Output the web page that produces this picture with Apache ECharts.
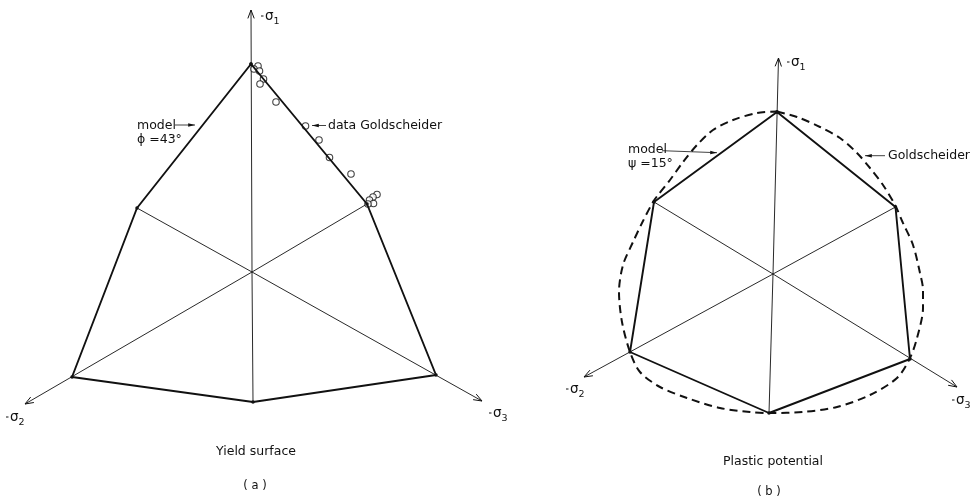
<!DOCTYPE html>
<html>
<head>
<meta charset="utf-8">
<script src="https://cdn.jsdelivr.net/npm/echarts@6.0.0/dist/echarts.min.js"></script>
<style>
  html, body { margin: 0; padding: 0; background: #fff; }
  #chart { width: 970px; height: 501px; }
</style>
</head>
<body>
<div id="chart"></div>
<script>
// Deviatoric (π-plane) coordinates: origin on the hydrostatic axis, +y toward -σ1.
// Hexagon vertex order: -σ1 corner, extension, -σ2 corner, extension, -σ3 corner, extension.

// (a) Yield surface, Mohr-Coulomb with φ = 43°
const yieldVertices = [[-1, 208], [-115, 64], [-180, -105], [1, -130], [184, -103], [115, 68]];
const yieldAxisTips = [[-1, 262], [-227, -132], [230, -129]];
const goldscheiderTests = [
  [6, 206], [2, 203], [7.5, 201], [11.5, 193], [8, 188], [24, 170],
  [53.5, 146], [67, 132], [77.5, 114.5], [99, 98],
  [125, 77.5], [121, 75], [117.5, 72], [121.5, 68.5], [116, 68]
];

// (b) Plastic potential, ψ = 15°, and Goldscheider's potential surface
const potentialVertices = [[4, 162], [-119, 72], [-143, -78], [-4, -139], [137, -85], [122.5, 67]];
const potentialAxisTips = [[5.5, 216], [-189, -103], [184, -113]];
const goldscheiderPotential = [
  [4, 162.5], [24, 157], [47, 147], [67, 136], [84, 121], [97, 106], [110, 89], [122, 69],
  [130, 51], [140, 29], [147, 1], [150, -16], [150, -34], [144, -64], [137, -84],
  [124, -104], [97, -121], [64, -133], [30, -138], [-3, -139],
  [-23, -138], [-53, -134], [-86, -124], [-113, -113], [-133, -98], [-143, -78],
  [-151, -48], [-154, -18], [-150, 9], [-140, 32], [-131, 51], [-120, 72],
  [-115, 79], [-103, 94], [-90, 112], [-76, 129], [-60, 144], [-40, 154], [-16, 161], [4, 162.5]
];

const INK = '#111';
const FONT = '"DejaVu Sans", sans-serif';

// Rays from the origin: principal axes (with arrowheads) and the extension directions.
function buildRays(vertices, tips) {
  const rays = tips.map(t => [0, 0, t[0], t[1], 1]);
  [1, 3, 5].forEach(i => rays.push([0, 0, vertices[i][0], vertices[i][1], 0]));
  return rays;
}
function closed(points) {
  return points.concat([points[0]]);
}

function renderRay(params, api) {
  const p0 = api.coord([api.value(0), api.value(1)]);
  const p1 = api.coord([api.value(2), api.value(3)]);
  const children = [{
    type: 'line',
    shape: { x1: p0[0], y1: p0[1], x2: p1[0], y2: p1[1] },
    style: { stroke: INK, lineWidth: 0.9 }
  }];
  if (api.value(4)) {
    const a = Math.atan2(p1[1] - p0[1], p1[0] - p0[0]);
    const L = 9, t = 0.36;
    children.push({
      type: 'polyline',
      shape: { points: [
        [p1[0] - L * Math.cos(a - t), p1[1] - L * Math.sin(a - t)],
        [p1[0], p1[1]],
        [p1[0] - L * Math.cos(a + t), p1[1] - L * Math.sin(a + t)]
      ] },
      style: { stroke: INK, lineWidth: 1, fill: null }
    });
  }
  return { type: 'group', children };
}

function text(str, x, y, opts) {
  opts = opts || {};
  const align = opts.align || 'left';
  return {
    type: 'text', x, y, silent: true,
    style: {
      text: str, fill: INK,
      font: (opts.size || 12.5) + 'px ' + FONT,
      textAlign: align, align: align,
      textVerticalAlign: 'middle', verticalAlign: 'middle'
    }
  };
}
// "-σ" with a subscript index; the dash is a short stroke at mid height of σ.
function axisLabel(x, y, sub) {
  return [
    { type: 'line', silent: true, shape: { x1: x, y1: y - 2, x2: x + 2.5, y2: y - 2 },
      style: { stroke: INK, lineWidth: 1 } },
    text('σ', x + 4, y - 2, { size: 13.5 }),
    text(sub, x + 12.5, y + 4, { size: 9.5 })
  ];
}
function pointer(x1, y1, x2, y2) {
  const a = Math.atan2(y2 - y1, x2 - x1), L = 7, t = 0.25;
  return {
    type: 'group', silent: true,
    children: [
      { type: 'line', shape: { x1, y1, x2, y2 }, style: { stroke: INK, lineWidth: 0.8 } },
      { type: 'polygon', shape: { points: [
          [x2, y2],
          [x2 - L * Math.cos(a - t), y2 - L * Math.sin(a - t)],
          [x2 - L * Math.cos(a + t), y2 - L * Math.sin(a + t)]
        ] }, style: { fill: INK } }
    ]
  };
}

const hiddenAxis = (min, max, idx) => ({
  type: 'value', min, max, show: false, gridIndex: idx,
  splitLine: { show: false }
});

const chart = echarts.init(document.getElementById('chart'), null, { renderer: 'canvas' });

chart.setOption({
  animation: false,
  backgroundColor: '#fff',
  grid: [
    { left: 0, top: 0, width: 500, height: 501 },
    { left: 500, top: 0, width: 470, height: 501 }
  ],
  xAxis: [hiddenAxis(-252, 248, 0), hiddenAxis(-273, 197, 1)],
  yAxis: [hiddenAxis(-229, 272, 0), hiddenAxis(-227, 274, 1)],
  series: [
    // (a)
    {
      type: 'custom', xAxisIndex: 0, yAxisIndex: 0, silent: true,
      renderItem: renderRay, data: buildRays(yieldVertices, yieldAxisTips)
    },
    {
      type: 'line', xAxisIndex: 0, yAxisIndex: 0, silent: true, clip: false,
      data: closed(yieldVertices), symbol: 'circle', symbolSize: 3.5,
      itemStyle: { color: INK }, lineStyle: { color: INK, width: 1.9 }
    },
    {
      type: 'scatter', xAxisIndex: 0, yAxisIndex: 0, silent: true,
      data: goldscheiderTests, symbol: 'circle', symbolSize: 6.5,
      itemStyle: { color: '#fff', borderColor: INK, borderWidth: 1.1 }
    },
    // (b)
    {
      type: 'custom', xAxisIndex: 1, yAxisIndex: 1, silent: true,
      renderItem: renderRay, data: buildRays(potentialVertices, potentialAxisTips)
    },
    {
      type: 'line', xAxisIndex: 1, yAxisIndex: 1, silent: true, clip: false,
      data: goldscheiderPotential, showSymbol: false, smooth: 0.3,
      lineStyle: { color: INK, width: 2, type: [8, 5] }
    },
    {
      type: 'line', xAxisIndex: 1, yAxisIndex: 1, silent: true, clip: false,
      data: closed(potentialVertices), symbol: 'circle', symbolSize: 3.5,
      itemStyle: { color: INK }, lineStyle: { color: INK, width: 1.9 }
    }
  ],
  graphic: [
    // (a) labels
    ...axisLabel(261, 18, '1'),
    ...axisLabel(6, 419, '2'),
    ...axisLabel(489, 415, '3'),
    text('model', 137, 126),
    text('ϕ =43°', 137, 140),
    pointer(175, 125, 195, 125),
    pointer(326, 125.5, 312, 125.5),
    text('data Goldscheider', 328, 125.5),
    text('Yield surface', 256, 452, { align: 'center' }),
    text('( a )', 255, 486, { align: 'center', size: 11.5 }),
    // (b) labels
    ...axisLabel(787, 64, '1'),
    ...axisLabel(566, 391, '2'),
    ...axisLabel(952, 402, '3'),
    text('model', 628, 150),
    text('ψ =15°', 628, 164),
    pointer(662, 150.7, 717, 152.7),
    pointer(885, 155.7, 865, 155.7),
    text('Goldscheider', 888, 156),
    text('Plastic potential', 773, 461.5, { align: 'center' }),
    text('( b )', 769, 492, { align: 'center', size: 11.5 })
  ]
});
</script>
</body>
</html>
